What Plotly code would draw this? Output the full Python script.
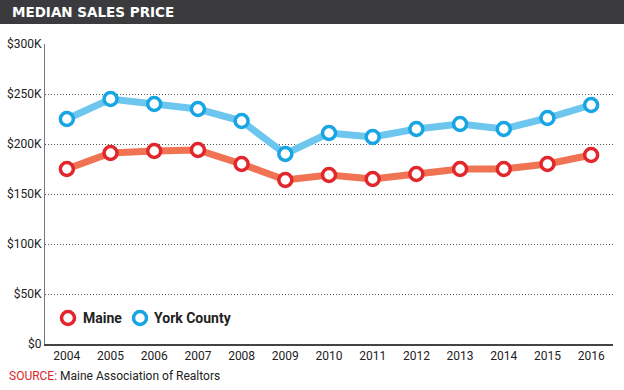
import plotly.graph_objects as go

years = list(range(2004, 2017))
maine = [175, 191, 193, 194, 180, 164, 169, 165, 170, 175, 175, 180, 189]
york = [225, 245, 240, 235, 223, 190, 211, 207, 215, 220, 215, 226, 239]
maine_vals = [v * 1000 for v in maine]
york_vals = [v * 1000 for v in york]
ytick_vals = [0, 50000, 100000, 150000, 200000, 250000, 300000]
ytick_text = ["$0", "$50K", "$100K", "$150K", "$200K", "$250K", "$300K"]
series_names = ["Maine", "York County"]

FONT = "Roboto, Liberation Sans, sans-serif"
W, H = 624, 390
L, R, T, B = 45, 11, 44, 46
PW, PH = W - L - R, H - T - B


def px_x(x):
    return (x - L) / PW


def px_y(y):
    return (H - B - y) / PH


colors = [("#f07454", "#e1262c"), ("#6dc6ee", "#17a5e3")]
values = [maine_vals, york_vals]

fig = go.Figure()
for name, vals, (lc, mc) in zip(series_names, values, colors):
    fig.add_trace(go.Scatter(x=years, y=vals, mode="lines", line=dict(color=lc, width=7),
                             showlegend=False, hoverinfo="skip"))
for name, vals, (lc, mc) in zip(series_names, values, colors):
    fig.add_trace(go.Scatter(x=years, y=vals, mode="markers", name=name, showlegend=False,
                             marker=dict(size=13, color="white", line=dict(color=mc, width=3.5))))

shapes = [dict(type="rect", xref="paper", yref="paper",
               x0=px_x(-2), x1=px_x(W + 2), y0=px_y(24), y1=px_y(-2),
               fillcolor="#3b3b3d", line=dict(width=0), layer="below")]
annotations = [
    dict(text="MEDIAN SALES PRICE", xref="paper", yref="paper",
         x=px_x(10), y=px_y(12), xanchor="left", yanchor="middle", showarrow=False,
         font=dict(family="DejaVu Sans, sans-serif", size=13.5, color="white", weight="bold")),
    dict(text="<span style='color:#d9262b'>SOURCE:</span> Maine Association of Realtors",
         xref="paper", yref="paper", x=px_x(7), y=px_y(376),
         xanchor="left", yanchor="middle", showarrow=False,
         font=dict(family=FONT, size=12, color="#222")),
]
# manual legend
leg_pos = [(68, 82), (140, 153)]
for name, (lc, mc), (cx, tx) in zip(series_names, colors, leg_pos):
    r = 6.5
    cy = 318
    shapes.append(dict(type="circle", xref="paper", yref="paper",
                       x0=px_x(cx - r), x1=px_x(cx + r), y0=px_y(cy + r), y1=px_y(cy - r),
                       fillcolor="white", line=dict(color=mc, width=3.5)))
    annotations.append(dict(text=name, xref="paper", yref="paper", x=px_x(tx - 1), y=px_y(cy),
                            xanchor="left", yanchor="middle", showarrow=False,
                            font=dict(family=FONT, size=14, color="#222", weight="bold")))

fig.update_layout(
    width=W, height=H,
    margin=dict(l=L, r=R, t=T, b=B, autoexpand=False),
    plot_bgcolor="white", paper_bgcolor="white",
    font=dict(family=FONT, size=12, color="#222"),
    showlegend=False,
    xaxis=dict(range=[2003.5, 2016.5], tickvals=years, ticktext=[str(y) for y in years],
               showgrid=False, showline=True, linecolor="#444", linewidth=1.5,
               ticks="", ticklen=0, zeroline=False, fixedrange=True, automargin=False,
               tickfont=dict(family=FONT, size=12, color="#222")),
    yaxis=dict(range=[0, 300000], tickvals=ytick_vals, ticktext=ytick_text,
               showgrid=True, gridcolor="#555", griddash="1px,2px", gridwidth=1,
               showline=True, linecolor="#777", linewidth=1,
               ticks="", zeroline=False, fixedrange=True, automargin=False,
               tickfont=dict(family=FONT, size=12, color="#222")),
    shapes=shapes,
    annotations=annotations,
)

fig.write_html("out.html", config={"displayModeBar": False},
               post_script="document.body.style.margin='0';document.body.style.overflow='hidden';")
